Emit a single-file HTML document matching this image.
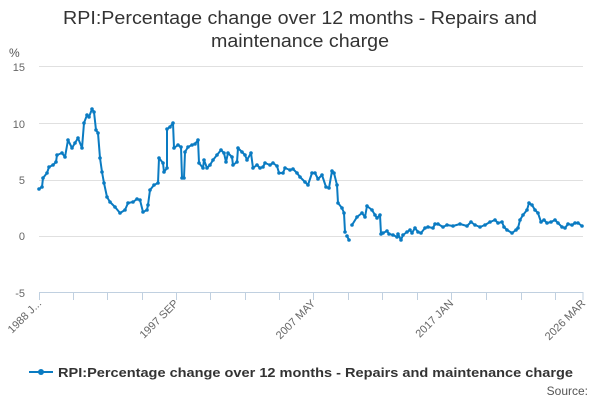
<!DOCTYPE html>
<html><head><meta charset="utf-8"><style>
body{margin:0;background:#fff;}
svg{display:block;font-family:"Liberation Sans","DejaVu Sans",sans-serif;}
</style></head><body>
<svg width="600" height="400" viewBox="0 0 600 400" xmlns="http://www.w3.org/2000/svg">
<defs><marker id="m" markerWidth="4" markerHeight="4" refX="2" refY="2" markerUnits="userSpaceOnUse"><circle cx="2" cy="2" r="1.8" fill="#0a7bc2"/></marker></defs>
<text x="300" y="24" text-anchor="middle" font-size="18" fill="#333" textLength="474" lengthAdjust="spacingAndGlyphs">RPI:Percentage change over 12 months - Repairs and</text>
<text x="300" y="47" text-anchor="middle" font-size="18" fill="#333" textLength="178" lengthAdjust="spacingAndGlyphs">maintenance charge</text>
<text x="9" y="57" font-size="12" fill="#555">%</text>
<g stroke="#e0e0e0" stroke-width="1">
<line x1="39" x2="583" y1="66.5" y2="66.5"/><line x1="39" x2="583" y1="123.5" y2="123.5"/>
<line x1="39" x2="583" y1="180.5" y2="180.5"/><line x1="39" x2="583" y1="236.5" y2="236.5"/>
</g>
<line x1="39" x2="583" y1="292.5" y2="292.5" stroke="#c0d0e0"/>
<g stroke="#c0d0e0"><line x1="39.5" x2="39.5" y1="292" y2="300"/><line x1="73.5" x2="73.5" y1="292" y2="300"/><line x1="107.5" x2="107.5" y1="292" y2="300"/><line x1="142.5" x2="142.5" y1="292" y2="300"/><line x1="176.5" x2="176.5" y1="292" y2="300"/><line x1="210.5" x2="210.5" y1="292" y2="300"/><line x1="245.5" x2="245.5" y1="292" y2="300"/><line x1="279.5" x2="279.5" y1="292" y2="300"/><line x1="313.5" x2="313.5" y1="292" y2="300"/><line x1="348.5" x2="348.5" y1="292" y2="300"/><line x1="382.5" x2="382.5" y1="292" y2="300"/><line x1="417.5" x2="417.5" y1="292" y2="300"/><line x1="451.5" x2="451.5" y1="292" y2="300"/><line x1="486.5" x2="486.5" y1="292" y2="300"/><line x1="521.5" x2="521.5" y1="292" y2="300"/><line x1="555.5" x2="555.5" y1="292" y2="300"/><line x1="583" x2="583" y1="292" y2="300"/></g>
<g font-size="11" fill="#666" text-anchor="end">
<text x="25" y="71">15</text><text x="25" y="128">10</text><text x="25" y="184">5</text><text x="25" y="240">0</text><text x="25" y="297">-5</text>
</g>
<g font-size="11" fill="#666" text-anchor="end">
<text transform="translate(42,304) rotate(-45)">1988 J...</text>
<text transform="translate(179,304) rotate(-45)">1997 SEP</text>
<text transform="translate(316,304) rotate(-45)">2007 MAY</text>
<text transform="translate(454,304) rotate(-45)">2017 JAN</text>
<text transform="translate(586,304) rotate(-45)">2026 MAR</text>
</g>
<g fill="none" stroke="#0a7bc2" stroke-width="2" stroke-linejoin="round" marker-start="url(#m)" marker-mid="url(#m)" marker-end="url(#m)">
<polyline points="39,189 42,187 43,178 47,173 49,167 53,165 56,162 57,155 62,153 65,157 68,140 72,148 75,143 78,138 82,148 84,123 87,115 89,117 92,109 94,112 96,130 98,133 100,158 102,172 104,183 107,197 110,202 115,207 120,213 125,210 128,203 133,202 137,199 140,200 143,212 147,210 148,205 150,190 154,185 158,183 159,158 163,163 164,172 167,168 167,129 170,127 173,123 174,148 178,145 181,147 182,178 184,178 185,152 188,147 192,145 195,144 198,140 199,163 203,168 204,160 207,168 210,165 213,160 217,155 221,150 224,153 226,162 228,153 232,157 233,165 237,162 238,148 242,152 245,155 247,160 251,153 253,168 257,165 260,168 263,167 265,163 270,165 273,163 277,166 279,173 283,173 285,168 290,170 293,169 297,173 300,177 305,182 308,185 312,173 315,173 318,179 322,175 326,187 329,188 332,171 334,173 337,185 338,203 342,208 344,213 345,232"/>
<polyline points="347,236 349,240"/>
<polyline points="352,225 357,217 362,213 365,217 367,206 372,210 375,215 377,218 380,215 381,234 383,233 387,231 389,234 393,235 397,237 398,234 401,240 403,235 407,232 410,230 412,233 415,228 418,232 421,233 425,228 428,227 433,228 435,224 438,224 443,227 447,225 453,226 460,224 467,226 471,222 475,225 480,227 485,225 490,222 495,220 498,223 502,222 504,227 507,230 512,233 516,230 518,228 520,220 523,215 527,210 529,203 532,205 535,210 538,213 541,222 544,220 547,223 551,222 555,220 558,223 562,227 565,228 568,224 572,225 575,223 578,223 582,226"/>
</g>
<line x1="29" x2="53" y1="372" y2="372" stroke="#0a7bc2" stroke-width="2"/>
<circle cx="41" cy="372" r="3" fill="#0a7bc2"/>
<text x="58" y="377" font-size="13" font-weight="bold" fill="#333" textLength="515" lengthAdjust="spacingAndGlyphs">RPI:Percentage change over 12 months - Repairs and maintenance charge</text>
<text x="588" y="395" font-size="12" fill="#555" text-anchor="end">Source:</text>
</svg>
</body></html>
